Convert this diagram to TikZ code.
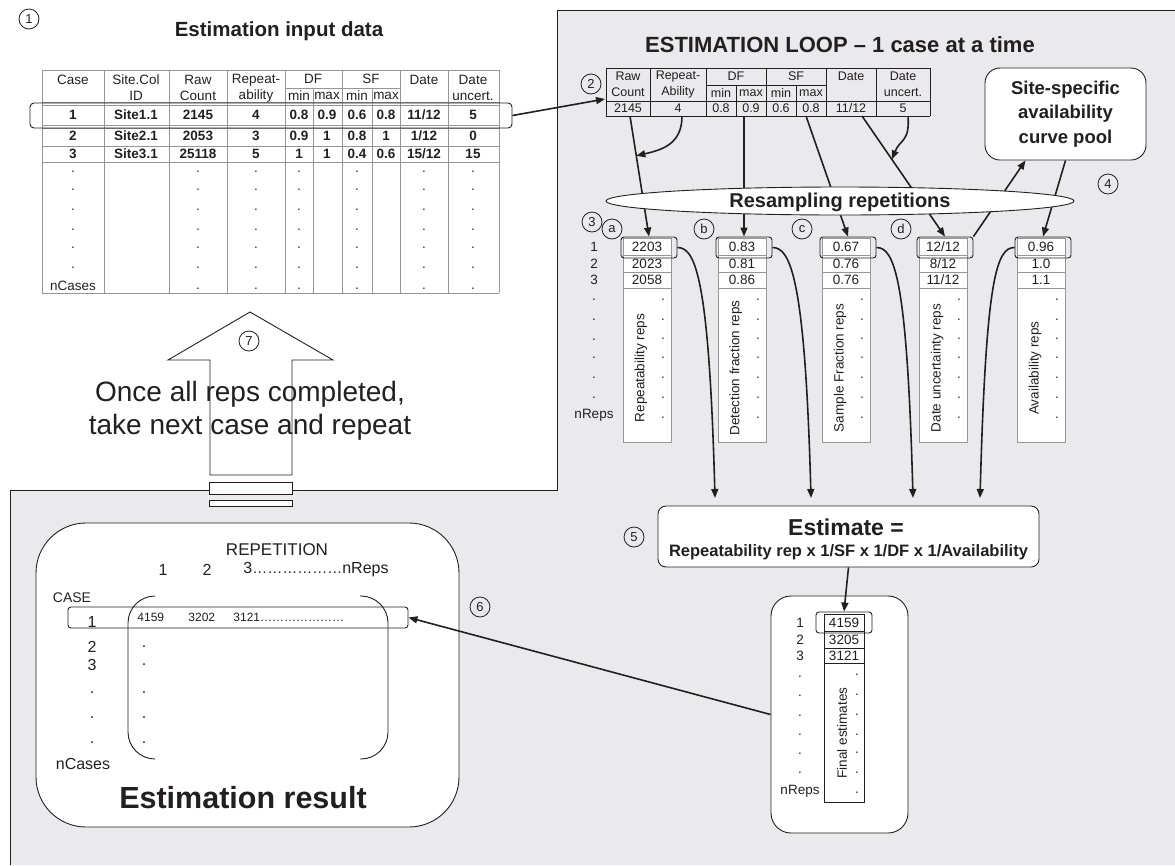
\documentclass[tikz,border=0pt]{standalone}
\usepackage{fontspec}
\setmainfont{Liberation Sans}
\usetikzlibrary{arrows.meta, calc}
\definecolor{panel}{RGB}{234,234,236}
\definecolor{rule}{RGB}{150,150,150}
\definecolor{ink}{RGB}{35,31,32}
\tikzset{
  num/.style={draw, circle, inner sep=0pt, minimum size=20pt, line width=0.8pt, font=\fontsize{13}{13}\selectfont},
  txt/.style={inner sep=0pt, align=center, font=\fontsize{13.5}{16}\selectfont},
  cell/.style={inner sep=0pt, align=center, font=\fontsize{12.5}{16}\selectfont},
  val/.style={inner sep=0pt, font=\fontsize{13.5}{16}\selectfont\bfseries},
  big/.style={inner sep=0pt, align=center, font=\fontsize{#1}{#1}\selectfont\bfseries},
  grid/.style={draw=rule, line width=1pt},
  pick/.style={draw, rounded corners=3pt, line width=0.9pt, inner sep=0pt},
  flow/.style={line width=1.6pt, -{Triangle[length=9pt,width=7pt]}},
}

\begin{document}
\begin{tikzpicture}[x=1pt, y=-1pt, color=ink, line width=0.9pt]
    \useasboundingbox (0,0) rectangle (1175,865);
    % Fundo
    \fill[panel] (557,10) -- (1175,10) -- (1175,865) -- (10,865) -- (10,490) -- (557,490) -- cycle;
    \draw (1175,10) -- (557,10) -- (557,490) -- (10,490) -- (10,865);

    % Dados de entrada
    \node[num] (n1) at (29,19) {1};
    \node[big=20.5] (inTitle) at (279,31) {Estimation input data};
    \foreach \x in {42,104,169,227,285,342,400,448,499} \draw[grid] (\x,70) -- (\x,293);
    \foreach \x in {313,372} \draw[grid] (\x,88) -- (\x,293);
    \draw[grid] (285,88) -- (400,88);
    \foreach \y in {70,102,105,125,128,146,162,293} \draw[grid] (42,\y) -- (499,\y);
    \node[txt] (hCase) at (73,80) {Case};
    \node[txt] (hSite) at (136,88) {Site.Col\\ID};
    \node[txt] (hRaw) at (198,88) {Raw\\Count};
    \node[txt] (hRep) at (256,88) {Repeat-\\ability};
    \node[txt] (hDF) at (313,79) {DF};
    \node[txt] (hSF) at (371,79) {SF};
    \node[txt] (hDate) at (424,80) {Date};
    \node[txt] (hUnc) at (473,88) {Date\\uncert.};
    \foreach \x/\t [count=\i] in {299/min,327/max,357/min,386/max}
        \node[txt] (hMM\i) at (\x,96) {\t};
    \foreach \x/\t [count=\i] in {73/1,136/Site1.1,198/2145,256/4,299/0.8,327/0.9,357/0.6,386/0.8,424/{11/12},473/5}
        \node[val] (ra\i) at (\x,114.5) {\t};
    \foreach \x/\t [count=\i] in {73/2,136/Site2.1,198/2053,256/3,299/0.9,327/1,357/0.8,386/1,424/{1/12},473/0}
        \node[val] (rb\i) at (\x,136) {\t};
    \foreach \x/\t [count=\i] in {73/3,136/Site3.1,198/25118,256/5,299/1,327/1,357/0.4,386/0.6,424/{15/12},473/15}
        \node[val] (rc\i) at (\x,154) {\t};
    \foreach \x in {73,198,256,299,357,424,473}
        \foreach \y in {172,190,210,230,248,268}
            \node[txt] (dot\x-\y) at (\x,\y) {.};
    \foreach \x in {198,256,299,357,424,473}
        \node[txt] (dot\x-end) at (\x,289) {.};
    \node[txt] (nCasesIn) at (73,286) {nCases};
    \node[pick, rounded corners=4pt, minimum width=482pt, minimum height=25pt] (caseSel) at (271,115.5) {};

    % Seta de repeticao
    \draw[fill=white] (210,475) -- (210,360) -- (168,360) -- (250,312) -- (333,360) -- (292,360) -- (292,475) -- cycle;
    \draw[fill=white] (209,482) rectangle (292,494);
    \draw[fill=white] (209,500) rectangle (292,506);
    \node[num] (n7) at (249,341) {7};
    \node[align=center, inner sep=0pt, font=\fontsize{28}{33}\selectfont] (loopNote) at (250,411) {Once all reps completed,\\take next case and repeat};

    % Ciclo de estimacao
    \node[big=22] (loopTitle) at (840,45) {ESTIMATION LOOP – 1 case at a time};
    \node[num] (n2) at (591,84) {2};
    \begin{scope}[line width=0.7pt]
        \foreach \x in {606,650,706,766,826,876,930} \draw (\x,68) -- (\x,116);
        \foreach \x in {736,796} \draw (\x,85) -- (\x,116);
        \draw (606,68) -- (930,68) (706,85) -- (826,85) (606,101) -- (930,101) (606,116) -- (930,116);
    \end{scope}
    \node[cell] (tRaw) at (628,84.5) {Raw\\Count};
    \node[cell] (tRep) at (678,84.5) {Repeat-\\Ability};
    \node[cell] (tDF) at (736,76.5) {DF};
    \node[cell] (tSF) at (796,76.5) {SF};
    \node[cell] (tDate) at (851,76.5) {Date};
    \node[cell] (tUnc) at (903,84.5) {Date\\uncert.};
    \foreach \x/\t [count=\i] in {721/min,751/max,781/min,811/max}
        \node[cell] (tMM\i) at (\x,93) {\t};
    \foreach \x/\t [count=\i] in {628/2145,678/4,721/0.8,751/0.9,781/0.6,811/0.8,851/{11/12},903/5}
        \node[cell] (tv\i) at (\x,108.5) {\t};
    \foreach \x/\t in {630/Raw,682/Rep,744/DF,806/SF,862/Date,908/Unc}
        \coordinate (o\t) at (\x,116);
    \coordinate (inRaw) at (605,99);

    % Curvas de disponibilidade
    \node[draw, fill=white, rounded corners=15pt, minimum width=161pt, minimum height=92pt, align=center,
          font=\fontsize{18.5}{24.5}\selectfont\bfseries] (pool) at (1065.5,114) {Site-specific\\availability\\curve pool};
    \node[num] (n4) at (1108,184) {4};

    % Colunas de repeticoes
    \node[num] (n3) at (592,222) {3};
    \foreach \x/\t in {612/a,704/b,802/c,901/d}
        \node[num] (n\t) at (\x,229) {\t};
    \foreach \x/\col/\lab/\va/\vb/\vc in {
        623/a/Repeatability reps/2203/2023/2058,
        718/b/Detection fraction reps/0.83/0.81/0.86,
        822/c/Sample Fraction reps/0.67/0.76/0.76,
        919/d/Date uncertainty reps/{12/12}/{8/12}/{11/12},
        1017/e/Availability reps/0.96/1.0/1.1}{
        \draw[grid, fill=white] (\x,238) rectangle ++(48,204);
        \foreach \y in {255,272,288} \draw[grid] (\x,\y) -- ++(48,0);
        \node[txt] (v\col1) at (\x+24,247) {\va};
        \node[txt] (v\col2) at (\x+24,263.5) {\vb};
        \node[txt] (v\col3) at (\x+24,280) {\vc};
        \node[txt, rotate=90] (lab\col) at (\x+18,368) {\lab};
        \foreach \y [count=\k] in {300,320,339,358,378,398,418}
            \node[txt] (dot\col\k) at (\x+40,\y) {.};
        \node[pick, minimum width=56pt, minimum height=21pt] (sel\col) at (\x+26,247.5) {};
    }
    \foreach \y/\t [count=\i] in {247/1,263.5/2,280/3,300/.,320/.,340/.,358/.,378/.,398/.,415/nReps}
        \node[txt] (rep\i) at (594,\y) {\t};

    % Ligacoes
    \draw[flow] (caseSel.east) -- (inRaw);
    \draw[flow] (oRaw) -- (sela.north);
    \draw[flow] (oDF) -- (selb.north);
    \draw[flow] (oSF) -- (selc.north);
    \draw[flow] (oDate) -- (seld.north);
    \draw[flow] (oRep) .. controls +(0,28) and +(26,-6) .. ($(oRaw)!0.33!(sela.north)$);
    \draw[flow] (oUnc) .. controls +(2,26) and +(8,-20) .. ($(oDate)!0.36!(seld.north)$);
    \draw[flow] (seld.north east) -- ($(pool.south)+(-40,0)$);
    \draw[flow] (pool.south) -- (sele.north);
    \draw[fill=white] (840,201) ellipse [x radius=234, y radius=14];
    \node[big=20] (resample) at (840,202) {Resampling repetitions};

    % Estimativa
    \node[draw, fill=white, rounded corners=8pt, minimum width=381pt, minimum height=61pt] (est) at (848.5,536.5) {};
    \node[big=23] (estHead) at (846,527) {Estimate =};
    \node[big=16.5] (estBody) at (848.5,552) {Repeatability rep x 1/SF x 1/DF x 1/Availability};
    \node[num] (n5) at (634,537) {5};
    \coordinate (inA) at (715,498);
    \coordinate (inB) at (811,498);
    \coordinate (inC) at (913,498);
    \coordinate (inE) at (980,498);
    \draw[flow] (sela.east) .. controls +(18,0) and +(-6,-220) .. (inA);
    \draw[flow] (selb.east) .. controls +(18,0) and +(-6,-220) .. (inB);
    \draw[flow] (selc.east) .. controls +(18,0) and +(-6,-220) .. (inC);
    \draw[flow] (sele.west) .. controls +(-18,0) and +(6,-220) .. (inE);

    % Estimativas finais
    \node[draw, fill=white, rounded corners=20pt, minimum width=137pt, minimum height=237pt] (finalBox) at (839.5,714.5) {};
    \draw (824,614) rectangle (864,802);
    \foreach \y in {631,648,663} \draw (824,\y) -- (864,\y);
    \foreach \y/\t [count=\i] in {622.5/4159,639.5/3205,655.5/3121}
        \node[txt] (fv\i) at (844,\y) {\t};
    \foreach \y/\t [count=\i] in {622.5/1,639.5/2,655.5/3,677/.,696/.,716/.,735/.,754/.,773/.,791/nReps}
        \node[txt] (fr\i) at (800,\y) {\t};
    \foreach \y [count=\k] in {675,695,715,735,753,773,793}
        \node[txt] (fdot\k) at (857,\y) {.};
    \node[txt, rotate=90] (labf) at (842,733) {Final estimates};
    \node[pick, minimum width=56pt, minimum height=21pt] (self) at (844,622.5) {};
    \draw[flow] (est.south) -- (self.north);

    % Resultado da estimacao
    \node[draw, fill=white, rounded corners=50pt, minimum width=423pt, minimum height=304pt] (resultBox) at (247.5,675) {};
    \node[inner sep=0pt, font=\fontsize{17}{17}\selectfont] (repHead) at (277,550) {REPETITION};
    \node[inner sep=0pt, font=\fontsize{16}{16}\selectfont] (rep1) at (163,570) {1};
    \node[inner sep=0pt, font=\fontsize{16}{16}\selectfont] (rep2) at (207,570) {2};
    \node[inner sep=0pt, anchor=west, font=\fontsize{16}{16}\selectfont] (repN) at (243,570)
        {3{\fontsize{15}{15}\selectfont ………………}nReps};
    \node[inner sep=0pt, font=\fontsize{14}{14}\selectfont] (caseHead) at (72,598) {CASE};
    \foreach \y/\t [count=\i] in {622/1,647/2,665/3,693/.,718/.,743/.}
        \node[inner sep=0pt, font=\fontsize{16}{16}\selectfont] (case\i) at (92,\y) {\t};
    \node[inner sep=0pt, font=\fontsize{16}{16}\selectfont] (caseN) at (83,764) {nCases};
    \foreach \x/\t [count=\i] in {137/4159,188/3202,233/3121…………………}
        \node[inner sep=0pt, anchor=west, font=\fontsize{12}{12}\selectfont] (rv\i) at (\x,617.5) {\t};
    \foreach \y [count=\k] in {647,665,693,718,743}
        \node[inner sep=0pt, font=\fontsize{16}{16}\selectfont] (rdot\k) at (144,\y) {.};
    \draw[rounded corners=27pt] (155,596) -- (128,596) -- (128,759) -- (155,759);
    \draw[rounded corners=27pt] (360,596) -- (388,596) -- (388,759) -- (360,759);
    \node[pick, minimum width=340pt, minimum height=21pt] (caseRow) at (238,617.5) {};
    \node[num] (n6) at (480,607) {6};
    \node[big=30.5] (resTitle) at (243,798) {Estimation result};
    \draw[flow] (finalBox.west) -- (caseRow.east);
\end{tikzpicture}
\end{document}
